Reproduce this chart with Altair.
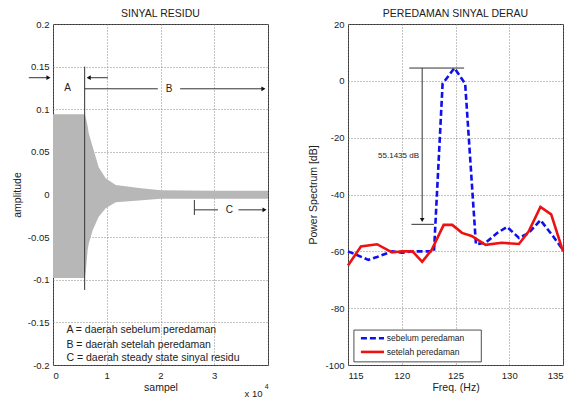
import altair as alt
import pandas as pd

FONT = "Liberation Sans"
TXT = "#222222"

# ---------------- Left panel: SINYAL RESIDU ----------------
env_sample = [0, 5900, 6100, 6450, 6640, 7380, 8500, 9800, 11680, 16000, 20000, 30000, 40000]
env_top = [0.094, 0.094, 0.090, 0.080, 0.072, 0.056, 0.032, 0.019, 0.011, 0.0076, 0.005, 0.0045, 0.0045]
env_bot = [-0.098, -0.098, -0.090, -0.065, -0.058, -0.042, -0.026, -0.016, -0.009, -0.007, -0.005, -0.005, -0.005]

# annotation segments (sample, amplitude)
segL_x = [-4500, 5890, 6640, 5890, 23650, 26300, 26300, 34500]
segL_x2 = [-840, 5890, 10200, 19500, 39150, 26300, 30700, 39350]
segL_y = [0.137, 0.150, 0.137, 0.124, 0.124, -0.0065, -0.018, -0.018]
segL_y2 = [0.137, -0.112, 0.137, 0.124, 0.124, -0.024, -0.018, -0.018]

headL_x = [-840, 6640, 39150, 39350]
headL_y = [0.137, 0.137, 0.124, -0.018]
headL_shape = ["triangle-right", "triangle-left", "triangle-right", "triangle-right"]

lblL_text = ["A", "B", "C"]
lblL_x = [2700, 21600, 32800]
lblL_y = [0.125, 0.124, -0.018]

note_lines = ["A = daerah sebelum peredaman",
              "B = daerah setelah peredaman",
              "C = daerah steady state sinyal residu"]
note_x = [2500, 2500, 2500]
note_y = [-0.159, -0.177, -0.192]

xL_ticks = [0, 10000, 20000, 30000, 40000]
yL_ticks = [-0.2, -0.15, -0.1, -0.05, 0, 0.05, 0.1, 0.15, 0.2]

# ---------------- Right panel: PEREDAMAN SINYAL DERAU ----------------
freq_before = [115, 116.9, 117.7, 119.1, 120, 121, 122, 123.0, 123.8, 124.9, 125.9, 126.9,
               127.8, 128.9, 129.8, 130.9, 131.8, 132.9, 134.0, 135]
db_before = [-60, -63, -62, -60, -60.5, -60, -60, -60, -1, 4.5, -1, -57.5,
             -57, -53.5, -51.4, -55.3, -53.6, -49, -54.3, -59.5]

freq_after = [115, 116.2, 117.7, 119.1, 120, 121, 121.9, 122.8, 123.9, 124.7, 125.6, 126.5,
              127.8, 129.3, 130.9, 131.8, 132.9, 133.9, 135]
db_after = [-65, -58.3, -57.5, -60.4, -60, -60, -63.7, -59.4, -50.7, -50.7, -53.5, -54.6,
            -57.7, -57, -57.4, -53, -44.4, -47, -60]

segR_x = [120.7, 121.9, 120.9]
segR_x2 = [125.8, 121.9, 123.0]
segR_y = [4.5, 4.5, -50.5]
segR_y2 = [4.5, -49, -50.5]
headR_x = [121.9]
headR_y = [-49]

drop_text = ["55.1435 dB"]
drop_x = [119.7]
drop_y = [-26.5]

series_names = ["sebelum peredaman", "setelah peredaman"]
xR_ticks = [115, 120, 125, 130, 135]
yR_ticks = [-100, -80, -60, -40, -20, 0, 20]

W, H = 215, 341

# ---------------- build left ----------------
xsL = alt.Scale(domain=[0, 40000], nice=False, zero=False)
ysL = alt.Scale(domain=[-0.2, 0.2], nice=False, zero=False)
axXL = alt.Axis(values=xL_ticks, title="sampel",
                labelExpr="datum.value == 40000 ? '' : format(datum.value / 10000, 'd')")
axYL = alt.Axis(values=yL_ticks, title="amplitude", titlePadding=5,
                labelExpr="replace(format(datum.value, '~g'), '\u2212', '-')")


def XL(f):
    return alt.X(f"{f}:Q", scale=xsL, axis=axXL)


def YL(f):
    return alt.Y(f"{f}:Q", scale=ysL, axis=axYL)


env_df = pd.DataFrame({"s": env_sample, "top": env_top, "bot": env_bot})
area = alt.Chart(env_df).mark_area(color="#b7b7b7", opacity=1).encode(
    x=XL("s"), y=YL("top"), y2="bot:Q")

segL_df = pd.DataFrame({"x": segL_x, "x2": segL_x2, "y": segL_y, "y2": segL_y2})
segL = alt.Chart(segL_df).mark_rule(color="#333333", strokeWidth=1).encode(
    x=XL("x"), x2="x2:Q", y=YL("y"), y2="y2:Q")

headL_df = pd.DataFrame({"x": headL_x, "y": headL_y, "shape": headL_shape})
headL = alt.Chart(headL_df).mark_point(filled=True, color="#111111", size=22, opacity=1).encode(
    x=XL("x"), y=YL("y"), shape=alt.Shape("shape:N", scale=None))

lblL_df = pd.DataFrame({"t": lblL_text, "x": lblL_x, "y": lblL_y})
lblL = alt.Chart(lblL_df).mark_text(font=FONT, fontSize=10, color=TXT).encode(
    x=XL("x"), y=YL("y"), text="t:N")

note_df = pd.DataFrame({"t": note_lines, "x": note_x, "y": note_y})
note = alt.Chart(note_df).mark_text(font=FONT, fontSize=10.5, color=TXT, align="left").encode(
    x=XL("x"), y=YL("y"), text="t:N")

exp_df = pd.DataFrame({"t": ["x 10", "4"], "x": [37300, 39750], "y": [-0.234, -0.226],
                       "fs": [9.5, 7]})
expo = alt.Chart(exp_df).mark_text(font=FONT, color=TXT).encode(
    x=XL("x"), y=YL("y"), text="t:N", size=alt.Size("fs:Q", scale=None))

left = alt.layer(area, segL, headL, lblL, note, expo).properties(
    width=W, height=H,
    title=alt.TitleParams("SINYAL RESIDU", font=FONT, fontSize=10.5, fontWeight="normal",
                          color=TXT, offset=0))

# ---------------- build right ----------------
xsR = alt.Scale(domain=[115, 135], nice=False, zero=False)
ysR = alt.Scale(domain=[-100, 20], nice=False, zero=False)
axXR = alt.Axis(values=xR_ticks, title="Freq. (Hz)", format="d")
axYR = alt.Axis(values=yR_ticks, title="Power Spectrum [dB]", titlePadding=6,
                labelExpr="replace(format(datum.value, 'd'), '\u2212', '-')")


def XR(f):
    return alt.X(f"{f}:Q", scale=xsR, axis=axXR)


def YR(f):
    return alt.Y(f"{f}:Q", scale=ysR, axis=axYR)


before_df = pd.DataFrame({"f": freq_before, "db": db_before})
after_df = pd.DataFrame({"f": freq_after, "db": db_after})

line_b = alt.Chart(before_df).mark_line(color="#1010ee", strokeWidth=2.6,
                                        strokeDash=[6, 3]).encode(x=XR("f"), y=YR("db"))
line_a = alt.Chart(after_df).mark_line(color="#ee1111", strokeWidth=2.6).encode(
    x=XR("f"), y=YR("db"))

segR_df = pd.DataFrame({"x": segR_x, "x2": segR_x2, "y": segR_y, "y2": segR_y2})
segR = alt.Chart(segR_df).mark_rule(color="#333333", strokeWidth=1).encode(
    x=XR("x"), x2="x2:Q", y=YR("y"), y2="y2:Q")
headR_df = pd.DataFrame({"x": headR_x, "y": headR_y})
headR = alt.Chart(headR_df).mark_point(filled=True, color="#111111", size=22, opacity=1,
                                       shape="triangle-down").encode(x=XR("x"), y=YR("y"))
drop_df = pd.DataFrame({"t": drop_text, "x": drop_x, "y": drop_y})
drop = alt.Chart(drop_df).mark_text(font=FONT, fontSize=8, color=TXT).encode(
    x=XR("x"), y=YR("y"), text="t:N")

# legend (box, samples, labels) in data coordinates of the right panel
leg_box = alt.Chart(pd.DataFrame({"x": [115.55], "x2": [127.4], "y": [-87.7], "y2": [-98.9]})).mark_rect(
    fill="white", stroke="#222222", strokeWidth=0.8).encode(x=XR("x"), x2="x2:Q", y=YR("y"), y2="y2:Q")
leg_lines_df = pd.DataFrame({"x": [116.2, 116.2], "x2": [118.35, 118.35], "y": [-90.6, -95.4],
                             "name": series_names})
leg_b = alt.Chart(leg_lines_df.iloc[[0]]).mark_rule(color="#1010ee", strokeWidth=2.6,
                                                     strokeDash=[6, 3]).encode(
    x=XR("x"), x2="x2:Q", y=YR("y"))
leg_a = alt.Chart(leg_lines_df.iloc[[1]]).mark_rule(color="#ee1111", strokeWidth=2.6).encode(
    x=XR("x"), x2="x2:Q", y=YR("y"))
leg_txt_df = pd.DataFrame({"t": series_names, "x": [118.6, 118.6], "y": [-90.6, -95.4]})
leg_txt = alt.Chart(leg_txt_df).mark_text(font=FONT, fontSize=8.5, color=TXT, align="left").encode(
    x=XR("x"), y=YR("y"), text="t:N")

right = alt.layer(line_b, line_a, segR, headR, drop, leg_box, leg_b, leg_a, leg_txt).properties(
    width=W, height=H,
    title=alt.TitleParams("PEREDAMAN SINYAL DERAU", font=FONT, fontSize=10.5, fontWeight="normal",
                          color=TXT, offset=0))

chart = alt.hconcat(left, right, spacing=38).properties(
    padding={"left": 3, "top": 0, "right": 5, "bottom": 0}
).configure_view(
    stroke="#333333", strokeWidth=1
).configure_axis(
    domain=False, ticks=False, grid=True, gridColor="#7a7a7a", gridDash=[1, 2],
    gridWidth=0.9, labelFont=FONT, labelFontSize=9.5, labelColor=TXT, labelPadding=4,
    titleFont=FONT, titleFontSize=10.5, titleFontWeight="normal", titleColor=TXT
).configure_axisX(
    labelPadding=5, titlePadding=3
)

chart.save("out.html", embed_options={"renderer": "svg", "actions": False})
